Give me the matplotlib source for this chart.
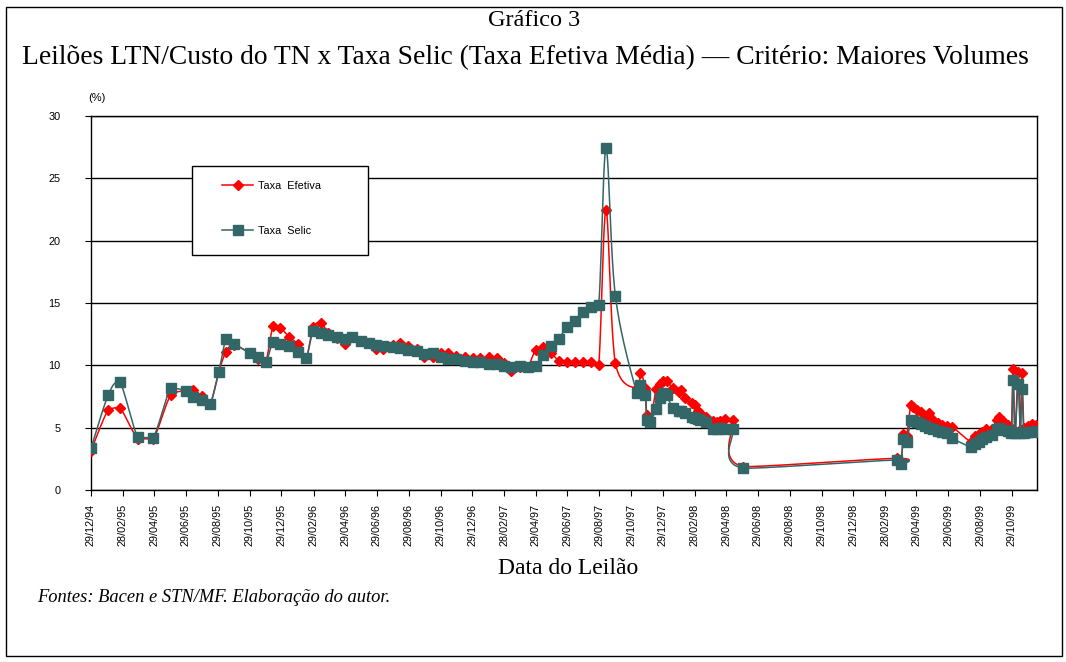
import numpy as np
import pandas as pd
import matplotlib
matplotlib.use("Agg")
import matplotlib.pyplot as plt
import matplotlib.dates as mdates
from matplotlib.lines import Line2D
from matplotlib.patches import Rectangle

# ---------------- data ----------------
data_inicio = "1994-12-29"
# days after 29/12/94 of each auction
dias = [0, 33, 55, 90, 119, 153, 182, 196, 212, 228, 245, 259, 274, 305, 320, 335,
        349, 363, 379, 397, 412, 426, 440, 455, 471, 486, 501, 518, 533, 546, 560,
        579, 593, 608, 624, 639, 655, 670, 685, 700, 716, 732, 746, 762, 778, 792,
        804, 822, 837, 852, 866, 882, 896, 912, 928, 943, 958, 973, 987, 1005,
        1046, 1053, 1062, 1065, 1072, 1083, 1091, 1097, 1103, 1115, 1126, 1131,
        1139, 1151, 1157, 1164, 1167, 1178, 1193, 1199, 1206, 1215, 1230, 1250,
        1544, 1552, 1557, 1563, 1571, 1576, 1583, 1590, 1599, 1606, 1614, 1624,
        1631, 1640, 1650, 1686, 1694, 1701, 1708, 1716, 1726, 1736, 1740, 1748,
        1758, 1764, 1767, 1771, 1777, 1781, 1784, 1788, 1796, 1803, 1812]

taxa_efetiva = [3.15, 6.42, 6.6, 4.12, 4.1, 7.62, 7.97, 8.02, 7.54, 6.9, 9.5, 11.1,
                11.63, 10.96, 10.5, 10.3, 13.15, 13.03, 12.3, 11.68, 10.56, 13.1,
                13.43, 12.6, 12.2, 11.68, 12.27, 11.95, 11.8, 11.28, 11.29, 11.6,
                11.79, 11.58, 11.33, 10.69, 10.65, 11.02, 10.98, 10.75, 10.64,
                10.56, 10.56, 10.64, 10.56, 10.16, 9.57, 9.89, 9.89, 11.23, 11.44,
                11.01, 10.37, 10.24, 10.24, 10.24, 10.24, 10.02, 22.45, 10.16,
                8.16, 9.38, 8.16, 6.01, 5.6, 8.07, 8.5, 8.77, 8.77, 8.16, 7.88,
                8.02, 7.35, 7.0, 6.82, 6.3, 6.15, 5.88, 5.5, 5.48, 5.5, 5.67, 5.61,
                1.87, 2.54, 2.1, 4.5, 4.3, 6.85, 6.68, 6.42, 6.23, 5.8, 6.15, 5.6,
                5.35, 5.25, 5.15, 5.08, 3.88, 4.3, 4.5, 4.68, 4.87, 4.9, 5.6, 5.83,
                5.55, 5.2, 4.8, 9.7, 4.7, 9.45, 4.8, 9.4, 5.0, 5.1, 5.3, 5.2]

taxa_selic = [3.34, 7.62, 8.69, 4.22, 4.2, 8.15, 7.97, 7.49, 7.22, 6.87, 9.49, 12.1,
              11.73, 10.96, 10.7, 10.24, 11.9, 11.7, 11.57, 11.04, 10.58, 12.77,
              12.56, 12.4, 12.26, 12.14, 12.28, 11.93, 11.78, 11.66, 11.56, 11.51,
              11.36, 11.2, 11.14, 10.89, 10.96, 10.69, 10.5, 10.48, 10.37, 10.24,
              10.24, 10.1, 10.1, 9.94, 9.89, 9.94, 9.84, 9.94, 10.83, 11.57, 12.14,
              13.04, 13.55, 14.25, 14.7, 14.84, 27.4, 15.56,
              7.8, 8.42, 7.62, 5.61, 5.48, 6.48, 7.35, 7.8, 7.62, 6.55, 6.36, 6.3,
              6.15, 5.88, 5.8, 5.67, 5.6, 5.48, 4.87, 4.9, 4.95, 4.9, 4.87, 1.74,
              2.41, 2.1, 4.07, 3.85, 5.61, 5.55, 5.48, 5.3, 5.13, 5.0, 4.88, 4.75,
              4.65, 4.55, 4.15, 3.47, 3.7, 3.88, 4.07, 4.28, 4.41, 4.87, 5.0, 4.85,
              4.7, 4.55, 8.8, 4.6, 8.5, 4.6, 8.1, 4.6, 4.65, 4.68, 4.76]

rotulos_x = ["29/12/94", "28/02/95", "29/04/95", "29/06/95", "29/08/95", "29/10/95",
             "29/12/95", "29/02/96", "29/04/96", "29/06/96", "29/08/96", "29/10/96",
             "29/12/96", "28/02/97", "29/04/97", "29/06/97", "29/08/97", "29/10/97",
             "29/12/97", "28/02/98", "29/04/98", "29/06/98", "29/08/98", "29/10/98",
             "29/12/98", "28/02/99", "29/04/99", "29/06/99", "29/08/99", "29/10/99"]
data_fim = "1999-12-16"

titulo1 = "Gráfico 3"
titulo2 = "Leilões LTN/Custo do TN x Taxa Selic (Taxa Efetiva Média) — Critério: Maiores Volumes"
rotulo_x = "Data do Leilão"
fonte = "Fontes: Bacen e STN/MF. Elaboração do autor."

# ---------------- helpers ----------------
def smooth(x, y, n=24):
    """Excel-like smoothed line (cubic Bezier, Catmull-Rom control points,
    control-point heights clamped to the segment range)."""
    x = np.asarray(x, float); y = np.asarray(y, float)
    P = np.column_stack([x, y])
    out = [P[0]]
    t = np.linspace(0, 1, n)[1:]
    for i in range(len(P) - 1):
        p0 = P[i - 1] if i > 0 else P[i]
        p1 = P[i]; p2 = P[i + 1]
        p3 = P[i + 2] if i + 2 < len(P) else P[i + 1]
        c1 = p1 + (p2 - p0) / 6.0
        c2 = p2 - (p3 - p1) / 6.0
        lo, hi = min(p1[1], p2[1]), max(p1[1], p2[1])
        c1[1] = np.clip(c1[1], lo, hi)
        c2[1] = np.clip(c2[1], lo, hi)
        for tt in t:
            b = ((1 - tt) ** 3) * p1 + 3 * ((1 - tt) ** 2) * tt * c1 + 3 * (1 - tt) * tt ** 2 * c2 + tt ** 3 * p2
            out.append(b)
    out = np.array(out)
    return out[:, 0], out[:, 1]

base = pd.Timestamp(data_inicio)
datas = [base + pd.Timedelta(days=d) for d in dias]
xnum = mdates.date2num(datas)
tick_dates = mdates.date2num(pd.to_datetime(rotulos_x, format="%d/%m/%y"))

# ---------------- figure ----------------
W, H = 1066, 662
fig = plt.figure(figsize=(W / 100, H / 100), dpi=100)
ax = fig.add_axes([91 / W, 1 - 490 / H, (1037 - 91) / W, (490 - 116) / H])

red = "#ff0000"
teal = "#336666"

xs, ys = smooth(xnum, taxa_efetiva)
ax.plot(xs, ys, color=red, lw=1.1, zorder=3)
ax.plot(xnum, taxa_efetiva, ls="none", marker="D", ms=4.8, color=red, mec=red, zorder=4)
xs, ys = smooth(xnum, taxa_selic)
ax.plot(xs, ys, color=teal, lw=1.1, zorder=5)
ax.plot(xnum, taxa_selic, ls="none", marker="s", ms=6.5, color=teal, mec=teal, zorder=6)

ax.set_xlim(mdates.date2num(pd.Timestamp(data_inicio)), mdates.date2num(pd.Timestamp(data_fim)))
ax.set_ylim(0, 30)
ax.set_yticks(np.arange(0, 31, 5))
ax.set_xticks(tick_dates)
ax.set_xticklabels(rotulos_x, rotation=90, fontsize=7.8, family="Liberation Sans")
ax.tick_params(axis="y", labelsize=7.8, length=4, width=0.8, direction="out", pad=18)
ax.tick_params(axis="x", length=4, width=0.8, direction="out", pad=6)
for lab in ax.get_yticklabels():
    lab.set_family("Liberation Sans")
ax.grid(axis="y", color="black", lw=1)
ax.set_axisbelow(True)
for s in ax.spines.values():
    s.set_linewidth(1.0)
    s.set_color("black")

# legend: box + entries
x0 = (192 - 91) / 946; x1 = (368 - 91) / 946
y0 = (490 - 255) / 374; y1 = (490 - 166) / 374
ax.add_patch(Rectangle((x0, y0), x1 - x0, y1 - y0, transform=ax.transAxes,
                       facecolor="white", edgecolor="black", lw=1.0, zorder=9))
h1 = Line2D([], [], color=red, lw=1.1, marker="D", ms=4.8)
h2 = Line2D([], [], color=teal, lw=1.1, marker="s", ms=6.5)
leg = ax.legend([h1, h2], ["Taxa  Efetiva", "Taxa  Selic"], loc="upper left",
                bbox_to_anchor=((222 - 91) / 946, (490 - 181) / 374),
                prop={"family": "Liberation Sans", "size": 7.8},
                frameon=False, handlelength=2.9, labelspacing=3.2, borderpad=0,
                handletextpad=0.45, borderaxespad=0)
leg.set_zorder(10)

# texts
fig.text(97 / W, 1 - 98 / H, "(%)", ha="center", va="center", fontsize=8, family="Liberation Sans")
fig.text(534 / W, 1 - 20 / H, titulo1, ha="center", va="center", fontsize=17.5, family="Liberation Serif")
fig.text(525 / W, 1 - 58 / H, titulo2, ha="center", va="center", fontsize=19.8, family="Liberation Serif")
fig.text(568 / W, 1 - 568 / H, rotulo_x, ha="center", va="center", fontsize=17, family="Liberation Serif")
fig.text(37 / W, 1 - 597 / H, fonte, ha="left", va="center", fontsize=13.3, style="italic",
         family="Liberation Serif")

# outer frame
fig.add_artist(Rectangle((6 / W, 1 - 656 / H), (1062 - 6) / W, (656 - 7) / H,
                         transform=fig.transFigure, fill=False, edgecolor="black", lw=1))

fig.savefig("out.png", dpi=100)
